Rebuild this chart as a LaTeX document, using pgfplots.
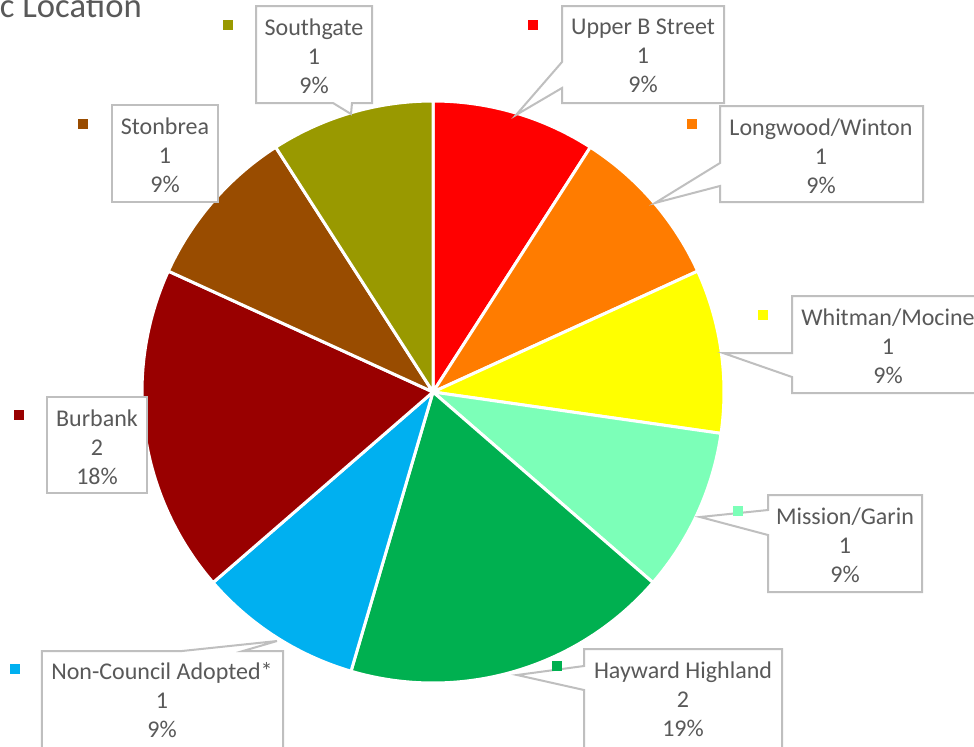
\documentclass[border=0pt]{standalone}
\usepackage{pgfplots}
\pgfplotsset{compat=1.18}
\usepackage{pgfplotstable}
\usepackage{fontspec}
\setmainfont{Carlito}
\definecolor{txt}{HTML}{595959}
\definecolor{bord}{HTML}{BFBFBF}
\definecolor{pc0}{HTML}{FF0000}
\definecolor{pc1}{HTML}{FF7C00}
\definecolor{pc2}{HTML}{FFFF00}
\definecolor{pc3}{HTML}{7CFFB8}
\definecolor{pc4}{HTML}{00B050}
\definecolor{pc5}{HTML}{00B0F0}
\definecolor{pc6}{HTML}{990000}
\definecolor{pc7}{HTML}{994C00}
\definecolor{pc8}{HTML}{999900}
\pgfplotstableread{
label value
UpperB 1
Longwood 1
Whitman 1
Mission 1
Hayward 2
NonCouncil 1
Burbank 2
Stonbrea 1
Southgate 1
}\piedata
\def\tot{0}%
\pgfplotsforeachungrouped \i in {0,...,8}{%
  \pgfplotstablegetelem{\i}{value}\of\piedata
  \pgfmathsetmacro\tot{\tot+\pgfplotsretval}%
}%
\def\cum{0}%
\pgfplotsforeachungrouped \i in {0,...,8}{%
  \pgfplotstablegetelem{\i}{value}\of\piedata
  \pgfmathsetmacro\a{90-\cum*360/\tot}%
  \pgfmathsetmacro\cum{\cum+\pgfplotsretval}%
  \pgfmathsetmacro\b{90-\cum*360/\tot}%
  \expandafter\xdef\csname sa\i\endcsname{\a}%
  \expandafter\xdef\csname sb\i\endcsname{\b}%
}%
\begin{document}
\begin{tikzpicture}
\begin{axis}[x=0.75pt, y=0.75pt, y dir=reverse, xmin=0, xmax=974, ymin=0, ymax=746,
  hide axis, clip=false, scale only axis]
\coordinate (bl) at (axis cs:0,746);
\coordinate (tr) at (axis cs:974,0);
\pgfplotsforeachungrouped \i in {0,...,8}{%
  \edef\temp{\noexpand\addplot[fill=pc\i, draw=white, line width=2.25pt, line join=round,
    domain=\csname sb\i\endcsname:\csname sa\i\endcsname, samples=80]
    ({433+291*cos(x)},{392-291*sin(x)}) -- (axis cs:433,392) -- cycle;}%
  \temp
}
% callouts
\tikzset{co/.style={draw=bord, fill=white, line width=1.5pt, line join=miter}}
\draw[co] (axis cs:256,6) -- (axis cs:372,6) -- (axis cs:372,103) -- (axis cs:352,103) -- (axis cs:351,114) -- (axis cs:333,103) -- (axis cs:256,103) -- cycle;
\draw[co] (axis cs:562,6) -- (axis cs:724,6) -- (axis cs:724,103) -- (axis cs:562,103) -- (axis cs:562,88) -- (axis cs:516,115) -- (axis cs:562,62) -- cycle;
\draw[co] (axis cs:720,106) -- (axis cs:923,106) -- (axis cs:923,202) -- (axis cs:720,202) -- (axis cs:720,186) -- (axis cs:655,203) -- (axis cs:720,163) -- cycle;
\draw[co] (axis cs:792,296) -- (axis cs:985,296) -- (axis cs:985,393) -- (axis cs:792,393) -- (axis cs:792,377) -- (axis cs:723,353) -- (axis cs:792,353) -- cycle;
\draw[co] (axis cs:768,495) -- (axis cs:922,495) -- (axis cs:922,592) -- (axis cs:768,592) -- (axis cs:768,535) -- (axis cs:700,517) -- (axis cs:768,510) -- cycle;
\draw[co] (axis cs:584,649) -- (axis cs:782,649) -- (axis cs:782,760) -- (axis cs:584,760) -- (axis cs:584,690) -- (axis cs:517,675) -- (axis cs:584,666) -- cycle;
\draw[co] (axis cs:42,651) -- (axis cs:182,651) -- (axis cs:277,641) -- (axis cs:243,651) -- (axis cs:283,651) -- (axis cs:283,760) -- (axis cs:42,760) -- cycle;
\draw[co] (axis cs:47,397) -- (axis cs:147,397) -- (axis cs:147,493) -- (axis cs:47,493) -- cycle;
\draw[co] (axis cs:112,105) -- (axis cs:218,105) -- (axis cs:218,202) -- (axis cs:112,202) -- cycle;
% labels
\tikzset{lb/.style={text=txt, align=center, inner sep=0pt, font=\fontsize{18}{21.75}\selectfont}}
\node[lb] at (axis cs:314,56) {Southgate\\1\\9\%};
\node[lb] at (axis cs:643,56) {Upper B Street\\1\\9\%};
\node[lb] at (axis cs:821,156) {Longwood/Winton\\1\\9\%};
\node[lb] at (axis cs:888,346) {Whitman/Mocine\\1\\9\%};
\node[lb] at (axis cs:845,545) {Mission/Garin\\1\\9\%};
\node[lb] at (axis cs:683,699) {Hayward Highland\\2\\19\%};
\node[lb] at (axis cs:162,700) {Non-Council Adopted*\\1\\9\%};
\node[lb] at (axis cs:97,447) {Burbank\\2\\18\%};
\node[lb] at (axis cs:165,155) {Stonbrea\\1\\9\%};
\node[anchor=base east, text=txt, inner sep=0pt, font=\fontsize{26}{30}\selectfont] at (axis cs:142,17) {Traffic Location};
% legend keys
\addplot[only marks, mark=square*, mark size=3.2pt, color=pc8] coordinates {(228,25)};
\addplot[only marks, mark=square*, mark size=3.2pt, color=pc0] coordinates {(533,25)};
\addplot[only marks, mark=square*, mark size=3.2pt, color=pc1] coordinates {(692,124)};
\addplot[only marks, mark=square*, mark size=3.2pt, color=pc2] coordinates {(763,315)};
\addplot[only marks, mark=square*, mark size=3.2pt, color=pc3] coordinates {(738,511)};
\addplot[only marks, mark=square*, mark size=3.2pt, color=pc4] coordinates {(557,666)};
\addplot[only marks, mark=square*, mark size=3.2pt, color=pc5] coordinates {(15,669)};
\addplot[only marks, mark=square*, mark size=3.2pt, color=pc6] coordinates {(19,415)};
\addplot[only marks, mark=square*, mark size=3.2pt, color=pc7] coordinates {(83,124)};
\end{axis}
\pgfresetboundingbox
\path[use as bounding box] (bl) rectangle (tr);
\end{tikzpicture}
\end{document}
